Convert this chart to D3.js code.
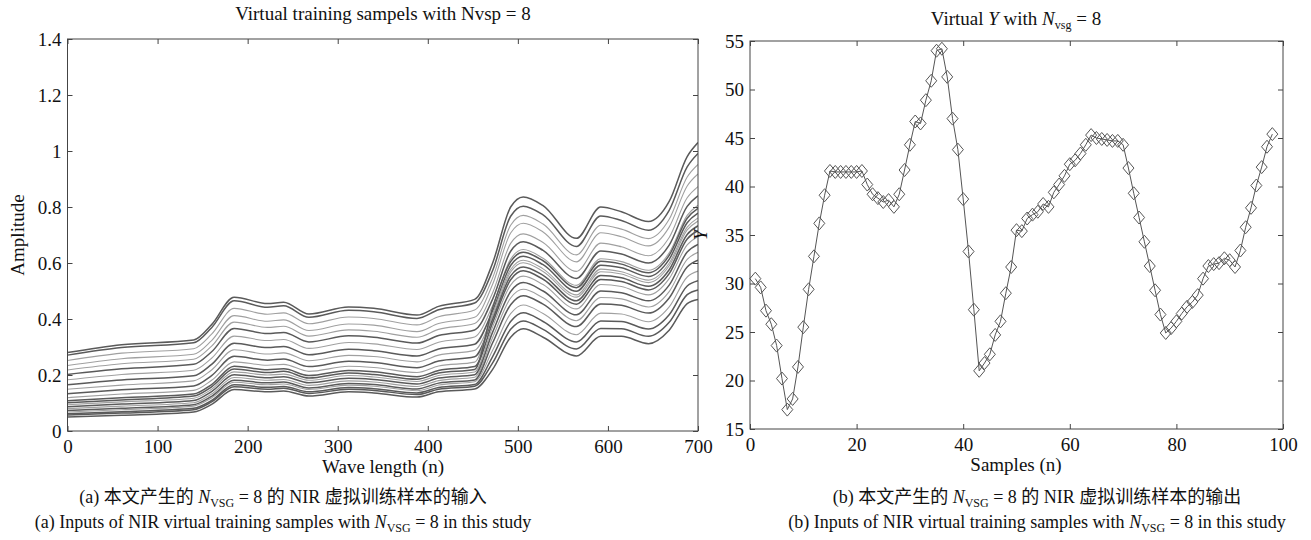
<!DOCTYPE html>
<html>
<head>
<meta charset="utf-8">
<script src="https://cdn.jsdelivr.net/npm/d3@7"></script>
<style>
  body { margin: 0; background: #fff; }
  text { font-family: "Liberation Serif", "Times New Roman", "Noto Sans CJK SC", serif; fill: #111; }
</style>
</head>
<body>
<svg id="chart" width="1311" height="540"></svg>
<script>
  // ---------------- data ----------------
  // (a) spectra, read at these wave lengths
  const waveLengths = [0, 60, 140, 160, 185, 222, 240, 268, 312, 340, 388, 412, 452,
                       472, 492, 506, 528, 565, 592, 615, 645, 668, 688, 700];
  const spectra = [
    [.280,.308,.325,.380,.478,.455,.460,.418,.443,.438,.414,.445,.470, .600,.800,.836,.805,.688,.800,.783,.748,.820,.980,1.030],
    [.271,.298,.315,.369,.465,.442,.447,.406,.431,.426,.402,.433,.457, .573,.767,.803,.772,.659,.768,.752,.717,.788,.943,.991],
    [.252,.278,.294,.346,.438,.417,.422,.383,.407,.402,.379,.408,.432, .547,.735,.770,.739,.629,.735,.721,.687,.756,.907,.952],
    [.234,.258,.274,.323,.412,.392,.397,.359,.382,.378,.355,.384,.406, .524,.707,.742,.711,.604,.708,.694,.661,.728,.875,.918],
    [.218,.240,.256,.303,.389,.370,.374,.339,.361,.356,.335,.363,.384, .494,.670,.704,.673,.570,.671,.658,.626,.691,.833,.873],
    [.202,.222,.238,.283,.366,.348,.352,.318,.340,.335,.314,.341,.361, .471,.642,.676,.645,.545,.643,.632,.600,.664,.802,.840],
    [.183,.202,.217,.260,.339,.323,.327,.295,.316,.311,.291,.317,.336, .448,.614,.648,.617,.520,.615,.605,.574,.636,.770,.806],
    [.165,.182,.197,.238,.313,.298,.302,.272,.292,.287,.268,.293,.310, .429,.591,.624,.594,.499,.592,.583,.552,.613,.744,.778],
    [.149,.164,.179,.218,.290,.275,.279,.251,.270,.266,.247,.271,.288, .410,.568,.601,.570,.478,.569,.561,.530,.590,.718,.750],
    [.133,.147,.161,.198,.267,.253,.257,.230,.249,.245,.226,.250,.265, .399,.554,.586,.556,.465,.555,.547,.517,.576,.702,.733],
    [.119,.132,.145,.181,.247,.235,.238,.213,.231,.227,.209,.232,.246, .418,.577,.610,.579,.486,.578,.569,.539,.599,.728,.761],
    [.108,.119,.132,.166,.231,.219,.222,.198,.216,.212,.194,.216,.230, .387,.540,.572,.542,.453,.541,.534,.504,.562,.686,.716],
    [.101,.111,.125,.158,.221,.209,.213,.189,.207,.202,.185,.207,.220, .440,.605,.638,.608,.512,.606,.596,.565,.627,.760,.795],
    [.094,.104,.117,.149,.211,.200,.203,.181,.198,.193,.177,.198,.211, .372,.521,.553,.523,.436,.523,.516,.486,.544,.665,.694],
    [.087,.096,.109,.141,.201,.190,.194,.172,.188,.184,.168,.189,.201, .353,.498,.530,.500,.415,.500,.494,.465,.521,.639,.666],
    [.080,.089,.101,.132,.191,.181,.184,.163,.179,.175,.159,.180,.192, .334,.475,.506,.476,.394,.477,.472,.443,.498,.613,.638],
    [.073,.081,.094,.124,.181,.172,.175,.154,.170,.166,.150,.171,.182, .315,.451,.483,.453,.373,.454,.449,.421,.475,.586,.610],
    [.068,.076,.089,.118,.174,.165,.168,.148,.164,.160,.144,.164,.176, .288,.419,.450,.420,.344,.421,.418,.390,.443,.550,.571],
    [.062,.069,.081,.109,.165,.156,.159,.140,.155,.151,.136,.155,.166, .266,.391,.422,.391,.318,.393,.391,.364,.415,.518,.537],
    [.057,.064,.076,.104,.158,.149,.153,.134,.149,.145,.130,.149,.160, .243,.363,.393,.363,.293,.366,.365,.338,.388,.487,.504],
    [.050,.056,.068,.095,.148,.140,.143,.125,.140,.136,.121,.140,.150, .220,.335,.365,.335,.268,.338,.338,.312,.360,.455,.470]
  ];
  const waveTicks = [0, 100, 200, 300, 400, 500, 600, 700];
  const ampTicks = [0, 0.2, 0.4, 0.6, 0.8, 1, 1.2, 1.4];

  // (b) virtual Y, samples 1..98
  const yValues = [
    30.5, 29.6, 27.2, 25.8, 23.6, 20.2, 17.0, 18.1, 21.4, 25.5,
    29.4, 32.8, 36.2, 39.1, 41.6, 41.5, 41.5, 41.5, 41.5, 41.5,
    41.6, 40.2, 39.2, 38.8, 38.4, 38.6, 37.9, 39.2, 41.7, 44.3,
    46.7, 46.5, 48.9, 50.9, 54.0, 54.2, 51.3, 47.0, 43.8, 38.7,
    33.3, 27.3, 21.0, 21.8, 22.7, 24.7, 26.1, 29.0, 31.7, 35.5,
    35.4, 36.7, 37.1, 37.4, 38.2, 37.9, 39.4, 40.2, 41.1, 42.3,
    42.7, 43.4, 44.3, 45.3, 45.0, 44.9, 44.8, 44.7, 44.7, 44.3,
    41.9, 39.3, 36.8, 34.3, 31.8, 29.3, 26.8, 24.9, 25.4, 26.1,
    26.9, 27.6, 28.1, 28.8, 30.5, 31.8, 32.0, 32.1, 32.6, 32.4,
    31.7, 33.4, 35.8, 37.8, 40.1, 42.0, 44.1, 45.4
  ];
  const sampleTicks = [0, 20, 40, 60, 80, 100];
  const yTicks = [15, 20, 25, 30, 35, 40, 45, 50, 55];

  // ---------------- setup ----------------
  const svg = d3.select("#chart");
  const boxA = { left: 67.5, right: 698, top: 39, bottom: 431 };
  const boxB = { left: 750, right: 1283, top: 41, bottom: 429 };

  const xA = d3.scaleLinear().domain([0, 700]).range([boxA.left, boxA.right]);
  const yA = d3.scaleLinear().domain([0, 1.4]).range([boxA.bottom, boxA.top]);
  const xB = d3.scaleLinear().domain([0, 100]).range([boxB.left, boxB.right]);
  const yB = d3.scaleLinear().domain([15, 55]).range([boxB.bottom, boxB.top]);

  // frame + inward ticks on all four sides
  function drawAxes(box, x, y, xt, yt) {
    const g = svg.append("g").attr("class", "axes");
    const fmt = d => String(d);
    g.append("g").attr("transform", `translate(0,${box.bottom})`)
      .call(d3.axisBottom(x).tickValues(xt).tickSize(-5).tickPadding(9).tickFormat(fmt));
    g.append("g").attr("transform", `translate(0,${box.top})`)
      .call(d3.axisTop(x).tickValues(xt).tickSize(-5).tickFormat(""));
    g.append("g").attr("transform", `translate(${box.left},0)`)
      .call(d3.axisLeft(y).tickValues(yt).tickSize(-5).tickPadding(6).tickFormat(fmt));
    g.append("g").attr("transform", `translate(${box.right},0)`)
      .call(d3.axisRight(y).tickValues(yt).tickSize(-5).tickFormat(""));
    g.selectAll(".domain").remove();
    g.selectAll(".tick line").attr("stroke", "#444");
    g.selectAll(".tick text").attr("font-size", 19).attr("fill", "#111");
    g.selectAll("g").attr("font-family", null);
    g.append("rect")
      .attr("x", box.left).attr("y", box.top)
      .attr("width", box.right - box.left).attr("height", box.bottom - box.top)
      .attr("fill", "none").attr("stroke", "#444").attr("stroke-width", 1);
  }

  // ---------------- (a) spectra ----------------
  svg.append("clipPath").attr("id", "clipA")
    .append("rect")
    .attr("x", boxA.left).attr("y", boxA.top)
    .attr("width", boxA.right - boxA.left).attr("height", boxA.bottom - boxA.top);

  const darkLines = new Set([0, 1, 5, 7, 9, 11, 12, 14, 16, 18, 19, 20]);
  const spectrumLine = d3.line()
    .x((d, i) => xA(waveLengths[i]))
    .y(d => yA(d))
    .curve(d3.curveMonotoneX);

  svg.append("g").attr("clip-path", "url(#clipA)")
    .selectAll("path")
    .data(spectra)
    .enter()
    .append("path")
    .attr("d", spectrumLine)
    .attr("fill", "none")
    .attr("stroke", (d, i) => darkLines.has(i) ? "#5a5a5a" : "#a0a0a0")
    .attr("stroke-width", (d, i) => darkLines.has(i) ? 1.5 : 1.1);

  drawAxes(boxA, xA, yA, waveTicks, ampTicks);

  svg.append("text").attr("x", 383).attr("y", 20).attr("text-anchor", "middle")
    .attr("font-size", 19).text("Virtual training sampels with Nvsp = 8");
  svg.append("text").attr("x", 383).attr("y", 473).attr("text-anchor", "middle")
    .attr("font-size", 19).text("Wave length (n)");
  svg.append("text").attr("transform", "translate(24,235) rotate(-90)")
    .attr("text-anchor", "middle").attr("font-size", 19).text("Amplitude");

  // ---------------- (b) virtual Y ----------------
  const samples = yValues.map((v, i) => ({ n: i + 1, v }));

  svg.append("path")
    .datum(samples)
    .attr("d", d3.line().x(d => xB(d.n)).y(d => yB(d.v)))
    .attr("fill", "none")
    .attr("stroke", "#555")
    .attr("stroke-width", 1);

  svg.append("g")
    .selectAll("path")
    .data(samples)
    .enter()
    .append("path")
    .attr("transform", d => `translate(${xB(d.n)},${yB(d.v)})`)
    .attr("d", "M0,-6.5L5.5,0L0,6.5L-5.5,0Z")
    .attr("fill", "none")
    .attr("stroke", "#555")
    .attr("stroke-width", 1);

  drawAxes(boxB, xB, yB, sampleTicks, yTicks);

  // title with italic Y and subscript
  const tB = svg.append("text").attr("x", 1016).attr("y", 25)
    .attr("text-anchor", "middle").attr("font-size", 19);
  tB.append("tspan").text("Virtual ");
  tB.append("tspan").attr("font-style", "italic").text("Y");
  tB.append("tspan").text(" with ");
  tB.append("tspan").attr("font-style", "italic").text("N");
  tB.append("tspan").attr("font-size", 12).attr("dy", 4).text("vsg");
  tB.append("tspan").attr("dy", -4).text(" = 8");

  svg.append("text").attr("x", 1016).attr("y", 471).attr("text-anchor", "middle")
    .attr("font-size", 19).text("Samples (n)");
  svg.append("text").attr("transform", "translate(707,235) rotate(-90)")
    .attr("text-anchor", "middle").attr("font-size", 19)
    .attr("font-style", "italic").text("Y");

  // ---------------- captions ----------------
  function caption(cx, y, before, after) {
    const t = svg.append("text").attr("x", cx).attr("y", y)
      .attr("text-anchor", "middle").attr("font-size", 18);
    t.append("tspan").text(before);
    t.append("tspan").attr("font-style", "italic").text("N");
    t.append("tspan").attr("font-size", 12).attr("dy", 4).text("VSG");
    t.append("tspan").attr("dy", -4).text(after);
  }
  caption(283, 503, "(a) 本文产生的 ", " = 8 的 NIR 虚拟训练样本的输入");
  caption(283, 528, "(a) Inputs of NIR virtual training samples with ", " = 8 in this study");
  caption(1037, 503, "(b) 本文产生的 ", " = 8 的 NIR 虚拟训练样本的输出");
  caption(1037, 528, "(b) Inputs of NIR virtual training samples with ", " = 8 in this study");
</script>
</body>
</html>
